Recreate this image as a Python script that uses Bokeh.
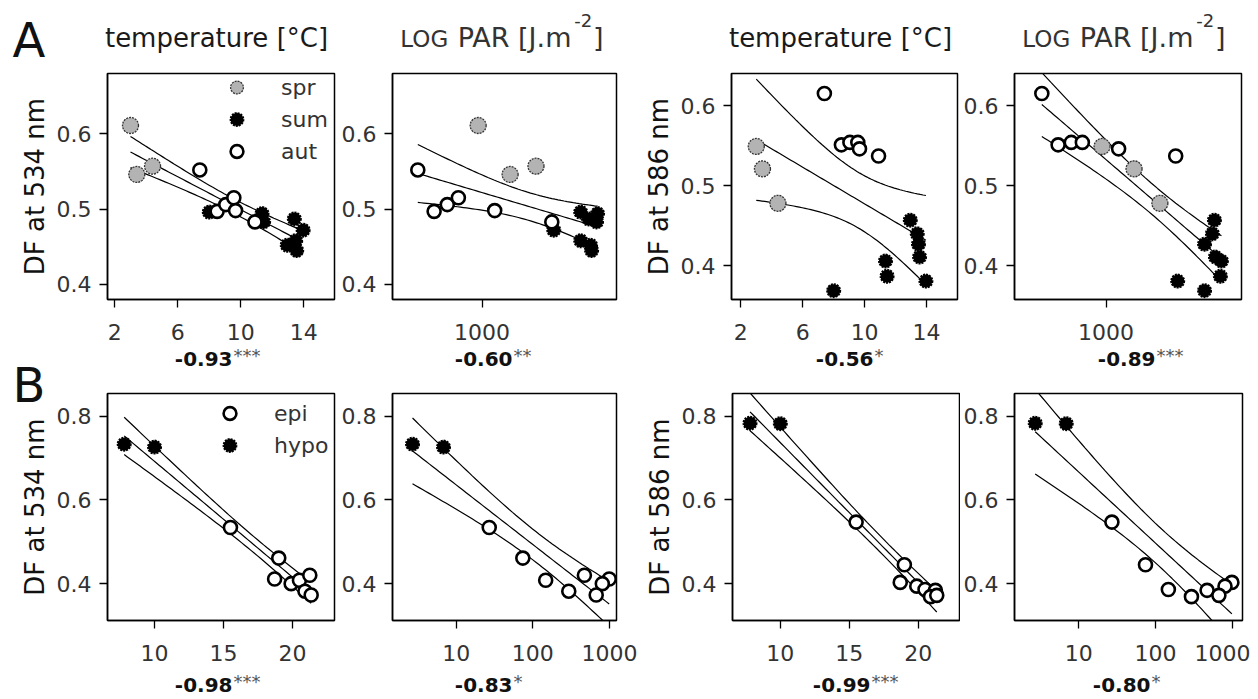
import numpy as np
from bokeh.plotting import figure
from bokeh.models import (Range1d, FixedTicker, BasicTickFormatter, Label,
                          Legend, LegendItem, GridBox)
from bokeh.layouts import row, column
from bokeh.embed import file_html
from bokeh.resources import INLINE

# ---------------- data: A (seasons) ----------------
spr_temp = [3.0, 3.4, 4.4]
spr_par = [945, 1500, 2180]
spr_df534 = [0.611, 0.546, 0.557]
spr_df586 = [0.549, 0.521, 0.478]

sum_temp = [8.0, 11.35, 11.45, 12.95, 13.4, 13.48, 13.55, 13.96]
sum_par = [4160, 5310, 5230, 4800, 4660, 4160, 4870, 2820]
sum_df534 = [0.496, 0.494, 0.483, 0.452, 0.487, 0.458, 0.445, 0.472]
sum_df586 = [0.369, 0.406, 0.387, 0.457, 0.440, 0.427, 0.411, 0.381]

aut_temp = [7.4, 8.5, 9.05, 9.56, 9.67, 10.9]
aut_par = [395, 500, 605, 710, 1200, 2740]
aut_df534 = [0.552, 0.497, 0.506, 0.515, 0.498, 0.483]
aut_df586 = [0.615, 0.551, 0.554, 0.554, 0.546, 0.537]

# ---------------- data: B (layers) ----------------
epi_temp = [15.5, 19.0, 18.7, 19.9, 20.5, 21.25, 20.9, 21.35]
epi_par = [27, 74, 990, 805, 147, 470, 294, 670]
epi_df534 = [0.534, 0.461, 0.411, 0.400, 0.408, 0.420, 0.382, 0.373]
epi_df586 = [0.547, 0.445, 0.403, 0.394, 0.386, 0.384, 0.369, 0.372]

hypo_temp = [7.8, 10.0]
hypo_par = [2.7, 6.85]
hypo_df534 = [0.733, 0.726]
hypo_df586 = [0.783, 0.782]

r_values = ["-0.93", "-0.60", "-0.56", "-0.89", "-0.98", "-0.83", "-0.99", "-0.80"]
r_stars = ["***", "**", "*", "***", "***", "*", "***", "*"]

temp_title = "temperature [°C]"
ylabels = ["DF at 534 nm", "DF at 586 nm"]

T_A = 2.131   # t(0.975, df=15)
T_B = 2.306   # t(0.975, df=8)

FONT = "DejaVu Sans"


def fit_band(x, y, tval, log=False, n=60):
    x = np.asarray(x, float)
    y = np.asarray(y, float)
    u = np.log10(x) if log else x
    b, a = np.polyfit(u, y, 1)
    resid = y - (a + b * u)
    s = np.sqrt(np.sum(resid ** 2) / (len(u) - 2))
    ug = np.linspace(u.min(), u.max(), n)
    yh = a + b * ug
    half = tval * s * np.sqrt(1.0 / len(u) + (ug - u.mean()) ** 2 / np.sum((u - u.mean()) ** 2))
    xg = 10 ** ug if log else ug
    return xg, yh, yh - half, yh + half


def panel(W, H, L, R, T, B, xr, yr, xlog, xticks, yticks, ylabel=None):
    p = figure(width=W, height=H, x_range=Range1d(*xr), y_range=Range1d(*yr),
               x_axis_type="log" if xlog else "linear",
               output_backend="svg", toolbar_location=None,
               min_border_left=L, min_border_right=R,
               min_border_top=T, min_border_bottom=B)
    p.grid.visible = False
    p.outline_line_color = "black"
    p.outline_line_width = 1.5
    p.border_fill_color = "white"
    for ax in (p.xaxis[0], p.yaxis[0]):
        ax.major_tick_in = 0
        ax.major_tick_out = 8
        ax.minor_tick_line_color = None
        ax.axis_line_color = "black"
        ax.axis_line_width = 1.5
        ax.major_tick_line_width = 1.3
        ax.major_label_text_font = FONT
        ax.major_label_text_font_size = "22px"
        ax.major_label_text_color = "#333333"
    p.xaxis.ticker = FixedTicker(ticks=xticks)
    p.yaxis.ticker = FixedTicker(ticks=yticks)
    p.xaxis.formatter = BasicTickFormatter()
    p.yaxis.formatter = BasicTickFormatter()
    p.xaxis.major_label_standoff = 16
    p.yaxis.major_label_standoff = 8
    if ylabel:
        p.yaxis.axis_label = ylabel
        p.yaxis.axis_label_text_font = FONT
        p.yaxis.axis_label_text_font_size = "26px"
        p.yaxis.axis_label_text_font_style = "normal"
        p.yaxis.axis_label_text_color = "#111111"
        p.yaxis.axis_label_standoff = 4
    return p


def add_fit(p, xs, ys, tval, log):
    xg, yh, lo, hi = fit_band(xs, ys, tval, log)
    for yy in (lo, yh, hi):
        p.line(xg, yy, line_color="black", line_width=1.2)


def season_points(p, xs, ys):
    rs = {}
    rs["spr"] = p.scatter(xs[0], ys[0], size=16, fill_color="#b3b3b3",
                          line_color="#333333", line_width=1.3, line_dash="2 1")
    rs["sum"] = p.scatter(xs[1], ys[1], size=13, fill_color="black",
                          line_color="black", line_width=2, line_dash="2 1")
    rs["aut"] = p.scatter(xs[2], ys[2], size=13, fill_color="white",
                          line_color="black", line_width=2.6)
    return rs


def layer_points(p, xs, ys):
    rs = {}
    rs["hypo"] = p.scatter(xs[1], ys[1], size=13, fill_color="black",
                           line_color="black", line_width=2, line_dash="2 1")
    rs["epi"] = p.scatter(xs[0], ys[0], size=13, fill_color="white",
                          line_color="black", line_width=2.6)
    return rs


def legend(p, labels, rs, loc):
    lg = Legend(items=[LegendItem(label=l, renderers=[rs[l]]) for l in labels],
                location=loc, label_text_font=FONT, label_text_font_size="22px",
                label_text_color="#333333", glyph_width=35, glyph_height=32,
                label_height=32, spacing=0, padding=0, margin=0,
                border_line_color=None, background_fill_alpha=0,
                label_standoff=27)
    p.add_layout(lg)


HA, HB = 368, 330
yrA1 = (0.38, 0.68)
yrA2 = (0.358, 0.64)
yrB = (0.312, 0.854)

# ---------- row A ----------
allA_temp = spr_temp + sum_temp + aut_temp
allA_par = spr_par + sum_par + aut_par
allA_534 = spr_df534 + sum_df534 + aut_df534
allA_586 = spr_df586 + sum_df586 + aut_df586

f1 = panel(338, HA, 107, 4, 73, 69, (1.54, 15.95), yrA1, False, [2, 6, 10, 14],
           [0.4, 0.5, 0.6], ylabels[0])
add_fit(f1, allA_temp, allA_534, T_A, False)
rs1 = season_points(f1, [spr_temp, sum_temp, aut_temp], [spr_df534, sum_df534, aut_df534])
legend(f1, ["spr", "sum", "aut"], rs1, (112, 132))

f2 = panel(302, HA, 53, 24, 73, 69, (274, 6980), yrA1, True, [1000], [0.4, 0.5, 0.6])
add_fit(f2, allA_par, allA_534, T_A, True)
season_points(f2, [spr_par, sum_par, aut_par], [spr_df534, sum_df534, aut_df534])

f3 = panel(320, HA, 90, 3, 73, 69, (1.4, 16.0), yrA2, False, [2, 6, 10, 14],
           [0.4, 0.5, 0.6], ylabels[1])
add_fit(f3, allA_temp, allA_586, T_A, False)
season_points(f3, [spr_temp, sum_temp, aut_temp], [spr_df586, sum_df586, aut_df586])

f4 = panel(290, HA, 53, 9, 73, 69, (266, 7100), yrA2, True, [1000], [0.4, 0.5, 0.6])
add_fit(f4, allA_par, allA_586, T_A, True)
season_points(f4, [spr_par, sum_par, aut_par], [spr_df586, sum_df586, aut_df586])

# ---------- row B ----------
allB_temp = epi_temp + hypo_temp
allB_par = epi_par + hypo_par
allB_534 = epi_df534 + hypo_df534
allB_586 = epi_df586 + hypo_df586

f5 = panel(338, HB, 107, 4, 25, 78, (6.59, 23.04), yrB, False, [10, 15, 20],
           [0.4, 0.6, 0.8], ylabels[0])
add_fit(f5, allB_temp, allB_534, T_B, False)
rs5 = layer_points(f5, [epi_temp, hypo_temp], [epi_df534, hypo_df534])
legend(f5, ["epi", "hypo"], rs5, (105, 159))

f6 = panel(302, HB, 53, 24, 25, 78, (1.48, 1232), yrB, True, [10, 100, 1000],
           [0.4, 0.6, 0.8])
add_fit(f6, allB_par, allB_534, T_B, True)
layer_points(f6, [epi_par, hypo_par], [epi_df534, hypo_df534])

f7 = panel(320, HB, 92, 1, 25, 78, (6.53, 23.0), yrB, False, [10, 15, 20],
           [0.4, 0.6, 0.8], ylabels[1])
add_fit(f7, allB_temp, allB_586, T_B, False)
layer_points(f7, [epi_temp, hypo_temp], [epi_df586, hypo_df586])

f8 = panel(290, HB, 53, 8, 25, 78, (1.45, 1361), yrB, True, [10, 100, 1000],
           [0.4, 0.6, 0.8])
add_fit(f8, allB_par, allB_586, T_B, True)
layer_points(f8, [epi_par, hypo_par], [epi_df586, hypo_df586])

panels = column(row(f1, f2, f3, f4), row(f5, f6, f7, f8))

# ---------- transparent text overlay (page pixel coordinates) ----------
OW, OH = 1250, 698
ov = figure(width=OW, height=OH, x_range=Range1d(0, OW), y_range=Range1d(OH, 0),
            output_backend="svg", toolbar_location=None, min_border=0,
            x_axis_location=None, y_axis_location=None)
ov.outline_line_color = None
ov.background_fill_alpha = 0
ov.border_fill_alpha = 0
ov.xgrid.visible = False
ov.ygrid.visible = False


def txt(x, base, s, px, color="#111111", align="left", style="normal"):
    # base = wanted baseline (page px); correct for the renderer's baseline offset
    ov.add_layout(Label(x=x, y=base - 0.42 * px, text=s, text_font=FONT,
                        text_font_size=f"{px}px", text_color=color,
                        text_align=align, text_font_style=style,
                        text_baseline="alphabetic"))


# panel letters
txt(12, 60, "A", 48)
txt(12, 405, "B", 48)

# column titles
for cx in (216, 840):
    txt(cx, 48, temp_title, 26, "#1a1a1a", "center")
w_log, w_sp, w_par, w_sup, w_br = 2.119 * 23, 0.318 * 27, 4.277 * 27, 0.997 * 18, 0.39 * 27
for cx in (500.5, 1122.5):
    x0 = cx - (w_log + w_sp + w_par + w_sup + w_br) / 2
    txt(x0, 48, "LOG", 23, "#333333")
    txt(x0 + w_log + w_sp, 48, "PAR [J.m", 27, "#333333")
    txt(x0 + w_log + w_sp + w_par + 1, 28, "-2", 18, "#333333")
    txt(x0 + w_log + w_sp + w_par + w_sup + 2, 48, "]", 27, "#333333")

# correlation coefficients under each panel
junctions = [232, 512, 873, 1155, 232, 512, 870, 1150]
for i, jx in enumerate(junctions):
    base = 367 if i < 4 else 693
    txt(jx, base, r_values[i], 20, "#111111", "right", "bold")
    txt(jx + 1, base - 4, r_stars[i], 18, "#555555", "left")

layout = GridBox(children=[(panels, 0, 0), (ov, 0, 0)])
open("out.html", "w").write(file_html(layout, INLINE))
